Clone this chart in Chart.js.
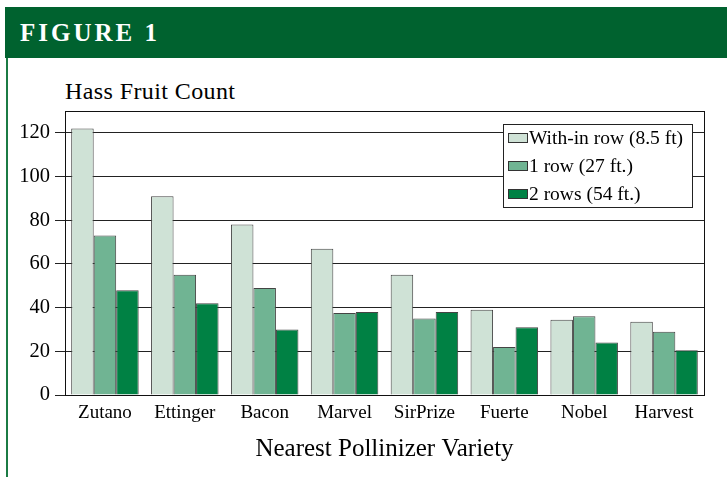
<!DOCTYPE html>
<html>
<head>
<meta charset="utf-8">
<script src="https://cdn.jsdelivr.net/npm/chart.js@4.4.0/dist/chart.umd.min.js"></script>
<style>
  html, body { margin: 0; padding: 0; background: #fff; }
  #wrap { position: relative; width: 727px; height: 477px; overflow: hidden; font-family: "Liberation Serif", "Times New Roman", serif; }
  #band { position: absolute; left: 5px; top: 7px; width: 722px; height: 51px; background: #00622f; }
  #band span { position: absolute; left: 15px; top: 13px; color: #fff; font-weight: bold; font-size: 25px; letter-spacing: 3px; line-height: 1; }
  #rule { position: absolute; left: 6px; top: 58px; width: 2px; height: 419px; background: #1b7b44; }
  #title { position: absolute; left: 65px; top: 79px; font-size: 24px; letter-spacing: 0.4px; line-height: 1; color: #000; }
  canvas { position: absolute; left: 0; top: 0; }
</style>
</head>
<body>
<div id="wrap">
  <div id="band"><span>FIGURE 1</span></div>
  <div id="rule"></div>
  <div id="title">Hass Fruit Count</div>
  <canvas id="fruitChart" width="727" height="477"></canvas>
</div>
<script>
// values
var categories = ["Zutano", "Ettinger", "Bacon", "Marvel", "SirPrize", "Fuerte", "Nobel", "Harvest"];
var seriesNames = ["With-in row (8.5 ft)", "1 row (27 ft.)", "2 rows (54 ft.)"];
var withinRow = [122, 91, 78, 67, 55, 39, 34.5, 33.5];
var oneRow = [73, 55, 49, 37.5, 35, 22, 36, 29];
var twoRows = [48, 42, 30, 38, 38, 31, 24, 20.5];
var yTicks = [0, 20, 40, 60, 80, 100, 120];
var seriesColors = ["#cfe2d6", "#70b493", "#008144"];

var serif = '"Liberation Serif", "Times New Roman", serif';

// black box round the plot area
var plotFrame = {
  id: 'plotFrame',
  beforeDatasetsDraw: function(chart) {
    var a = chart.chartArea, ctx = chart.ctx;
    ctx.save();
    ctx.strokeStyle = '#111';
    ctx.lineWidth = 1;
    ctx.strokeRect(Math.round(a.left) + 0.5, Math.round(a.top) + 0.5, Math.round(a.right - a.left), Math.round(a.bottom - a.top));
    ctx.restore();
  }
};

// legend box sits inside the plot, top right
var boxLegend = {
  id: 'boxLegend',
  afterDatasetsDraw: function(chart) {
    var ctx = chart.ctx, a = chart.chartArea;
    var x = Math.round(a.right) - 201, y = Math.round(a.top) + 13, w = 189, h = 83;
    ctx.save();
    ctx.fillStyle = '#fff';
    ctx.fillRect(x, y, w, h);
    ctx.strokeStyle = '#222';
    ctx.lineWidth = 1;
    ctx.strokeRect(x + 0.5, y + 0.5, w, h);
    ctx.font = '19.5px ' + serif;
    ctx.textBaseline = 'middle';
    chart.data.datasets.forEach(function(ds, i) {
      var cy = y + 14 + i * 28;
      ctx.fillStyle = ds.backgroundColor;
      ctx.fillRect(x + 5, cy - 5, 20, 10);
      ctx.strokeStyle = '#333';
      ctx.strokeRect(x + 5.5, cy - 4.5, 19, 9);
      ctx.fillStyle = '#000';
      ctx.fillText(ds.label, x + 26, cy + 1);
    });
    ctx.restore();
  }
};

var seriesData = [withinRow, oneRow, twoRows];
var datasets = seriesNames.map(function(name, i) {
  return {
    label: name,
    data: seriesData[i],
    backgroundColor: seriesColors[i],
    borderColor: '#444',
    borderWidth: 1,
    barPercentage: 1.0,
    categoryPercentage: 0.845
  };
});

new Chart(document.getElementById('fruitChart').getContext('2d'), {
  type: 'bar',
  data: { labels: categories, datasets: datasets },
  options: {
    responsive: false,
    animation: false,
    events: [],
    layout: { padding: { top: 111, right: 23, bottom: 0, left: 0 } },
    plugins: {
      legend: { display: false },
      title: { display: false },
      tooltip: { enabled: false }
    },
    scales: {
      x: {
        grid: { display: false, drawTicks: false },
        border: { display: true, color: '#111', width: 1 },
        ticks: { color: '#000', font: { family: serif, size: 19 }, padding: 7, maxRotation: 0, autoSkip: false },
        title: { display: true, text: 'Nearest Pollinizer Variety', color: '#000', font: { family: serif, size: 25 }, padding: { top: 0, bottom: 13 } },
        afterFit: function(scale) { scale.height = 82; }
      },
      y: {
        min: 0,
        max: 130,
        afterBuildTicks: function(scale) {
          scale.ticks = yTicks.map(function(v) { return { value: v }; });
        },
        grid: { color: '#222', lineWidth: 1, tickLength: 10, tickColor: '#222' },
        border: { display: true, color: '#111', width: 1 },
        ticks: { color: '#000', font: { family: serif, size: 20.5 }, padding: 5 },
        afterFit: function(scale) { scale.width = 65; }
      }
    }
  },
  plugins: [plotFrame, boxLegend]
});
</script>
</body>
</html>
